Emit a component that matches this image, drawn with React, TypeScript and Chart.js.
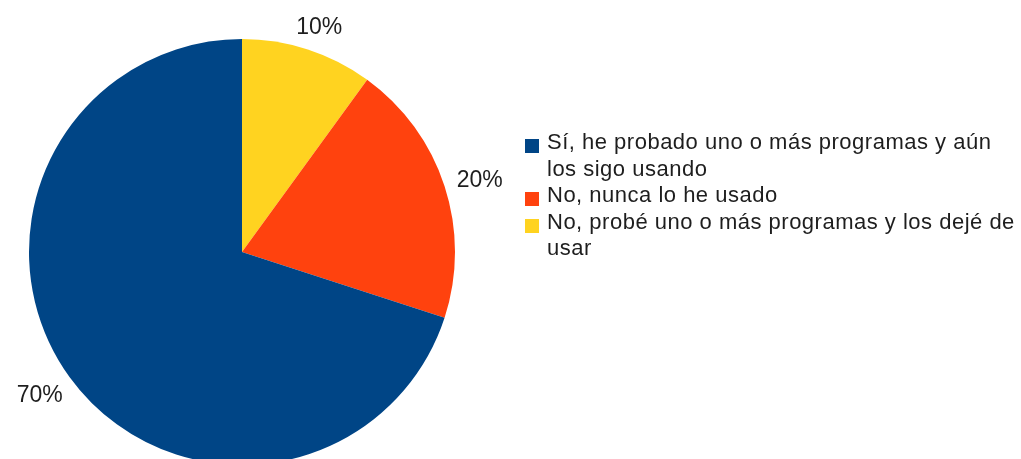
import React, { useEffect, useRef } from "react";
import { Chart, registerables } from "chart.js";

Chart.register(...registerables);

const categories = [
  "No, probé uno o más programas y los dejé de usar",
  "No, nunca lo he usado",
  "Sí, he probado uno o más programas y aún los sigo usando",
];
const values = [10, 20, 70];
const colors = ["#ffd320", "#ff420e", "#004586"];
const legendOrder = [2, 1, 0];

const FONT = "'Liberation Sans', Arial, sans-serif";
const TEXT_COLOR = "#1e1e1e";

const labelPlugin = {
  id: "outerLabels",
  afterDatasetsDraw(chart: any) {
    const ctx = chart.ctx;
    const meta = chart.getDatasetMeta(0);
    const total = values.reduce((a, b) => a + b, 0);
    ctx.save();
    ctx.font = `23px ${FONT}`;
    ctx.fillStyle = TEXT_COLOR;
    ctx.textAlign = "center";
    ctx.textBaseline = "middle";
    meta.data.forEach((arc: any, i: number) => {
      const { x, y, startAngle, endAngle, outerRadius } = arc.getProps(
        ["x", "y", "startAngle", "endAngle", "outerRadius"],
        true
      );
      const mid = (startAngle + endAngle) / 2;
      const text = Math.round((values[i] / total) * 100) + "%";
      const w = ctx.measureText(text).width;
      const hw = w / 2;
      const hh = 12;
      const g = 14;
      const px = x + (outerRadius + g) * Math.cos(mid);
      const py = y + (outerRadius + g) * Math.sin(mid);
      const cx = px + Math.cos(mid) * hw;
      const cy = py + Math.sin(mid) * hh + 3;
      ctx.fillText(text, cx, cy);
    });
    ctx.restore();
  },
};

export default function App() {
  const ref = useRef<HTMLCanvasElement | null>(null);

  useEffect(() => {
    document.body.style.margin = "0";
    if (!ref.current) return;
    const chart = new Chart(ref.current, {
      type: "pie",
      data: {
        labels: categories,
        datasets: [
          {
            data: values,
            backgroundColor: colors,
            borderWidth: 0,
          },
        ],
      },
      options: {
        responsive: false,
        animation: false,
        layout: { padding: { left: 29, top: 39, right: 566, bottom: 25 } },
        plugins: {
          legend: { display: false },
          tooltip: { enabled: false },
        },
      },
      plugins: [labelPlugin],
    });
    return () => chart.destroy();
  }, []);

  return (
    <div
      style={{
        position: "relative",
        width: 1021,
        height: 459,
        overflow: "hidden",
        background: "#fff",
      }}
    >
      <canvas
        ref={ref}
        width={1021}
        height={490}
        style={{ position: "absolute", left: 0, top: 0, width: 1021, height: 490 }}
      />
      <div
        style={{
          position: "absolute",
          left: 525,
          top: 129,
          width: 494,
          fontFamily: FONT,
          fontSize: 22,
          lineHeight: "26.5px",
          letterSpacing: "0.5px",
          color: TEXT_COLOR,
        }}
      >
        {legendOrder.map((idx) => (
          <div key={idx} style={{ display: "flex", alignItems: "flex-start" }}>
            <span
              style={{
                display: "inline-block",
                width: 14,
                height: 14,
                background: colors[idx],
                marginTop: 10,
                marginRight: 8,
                flex: "none",
              }}
            />
            <span style={{ width: 472 }}>{categories[idx]}</span>
          </div>
        ))}
      </div>
    </div>
  );
}
